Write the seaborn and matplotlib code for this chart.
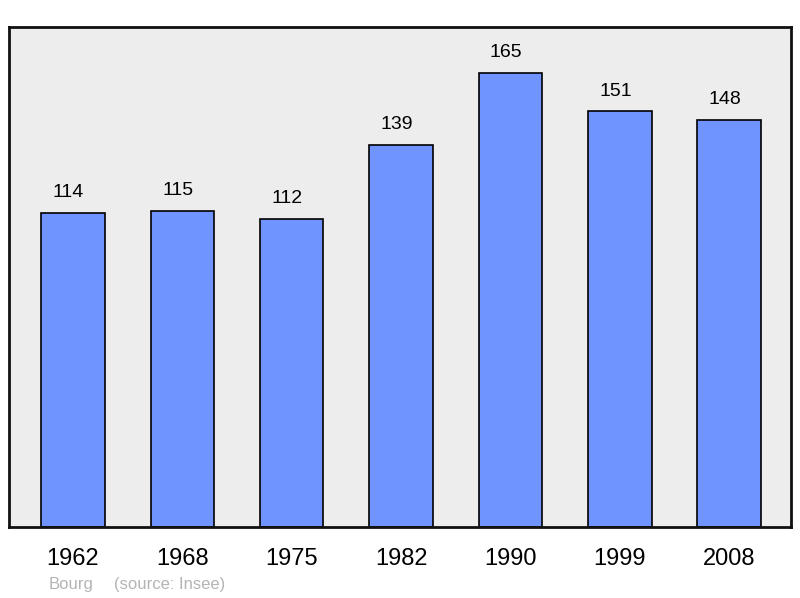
import matplotlib
matplotlib.use("Agg")
import matplotlib.pyplot as plt
import seaborn as sns
import pandas as pd

# Population data
years = ["1962", "1968", "1975", "1982", "1990", "1999", "2008"]
population = [114, 115, 112, 139, 165, 151, 148]
commune = "Bourg"
source = "(source: Insee)"

df = pd.DataFrame({"year": years, "pop": population})

sns.set_style("white")
plt.rcParams["font.family"] = ["Liberation Sans", "DejaVu Sans"]

fig = plt.figure(figsize=(8, 5.98), dpi=100)
ax = fig.add_axes([9 / 800, 1 - 527 / 598, 782 / 800, 500 / 598])
ax.set_facecolor("#ededed")

sns.barplot(data=df, x="year", y="pop", color="#7094ff", saturation=1,
            width=0.58, edgecolor="black", linewidth=1.2, ax=ax)

# value labels sit a little left of the bar centre, like the original
for i, v in enumerate(population):
    ax.text(i - 0.04, v + 4.3, str(v), ha="center", va="bottom", fontsize=14, color="black")

ax.set_xlim(-0.585, 6.565)
ax.set_ylim(0, 181.7)
ax.set_yticks([])
ax.set_xlabel("")
ax.set_ylabel("")
ax.tick_params(axis="x", length=0, labelsize=17, pad=15, labelcolor="black")
for s in ax.spines.values():
    s.set_visible(True)
    s.set_linewidth(2)
    s.set_color("#111111")

fig.text(49 / 800, 1 - 584 / 598, commune, fontsize=12, color="#b4b4b4", va="center")
fig.text(114 / 800, 1 - 584 / 598, source, fontsize=12, color="#b4b4b4", va="center")

fig.savefig("out.png", dpi=100)
